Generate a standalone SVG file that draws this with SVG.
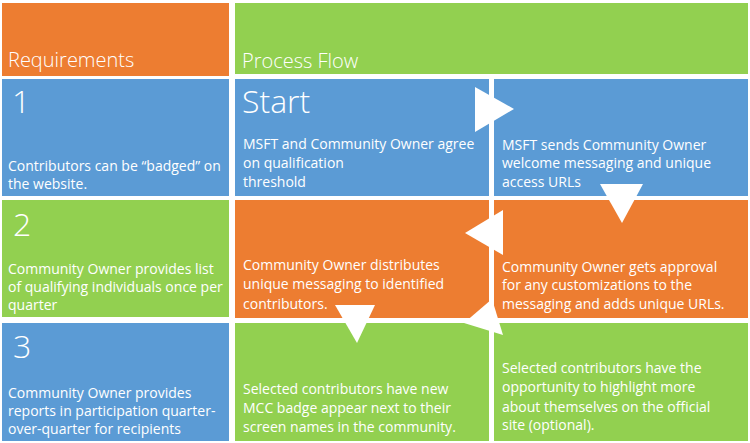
<svg xmlns="http://www.w3.org/2000/svg" width="750" height="443" viewBox="0 0 750 443">
<style>
.o{fill:#ED7D31}.b{fill:#5B9BD5}.g{fill:#92D050}
text{fill:#fff;font-family:"Open Sans","Noto Sans","Liberation Sans",sans-serif}
.h{font-size:20px;font-weight:300}
.n{font-size:32px;font-weight:300}
.t{font-size:14px}
.arr{fill:#fff}
</style>
<rect width="750" height="443" fill="#fff"/>
<g id="hdr-req"><rect class="o" x="2" y="3" width="227" height="73"/><text class="h" x="8" y="67">Requirements</text></g>
<g id="hdr-flow"><rect class="g" x="235" y="3" width="513" height="71"/><text class="h" x="242" y="68">Process Flow</text></g>
<g id="req1"><rect class="b" x="2" y="79" width="227" height="117"/><text class="n" x="12" y="113">1</text>
<text class="t" x="8" y="171">Contributors can be “badged” on</text><text class="t" x="8" y="189">the website.</text></g>
<g id="req2"><rect class="g" x="2" y="200" width="227" height="117"/><text class="n" x="13" y="236">2</text>
<text class="t" x="8" y="274">Community Owner provides list</text><text class="t" x="8" y="292">of qualifying individuals once per</text><text class="t" x="8" y="310">quarter</text></g>
<g id="req3"><rect class="b" x="2" y="323" width="227" height="118"/><text class="n" x="13" y="358">3</text>
<text class="t" x="8" y="398">Community Owner provides</text><text class="t" x="8" y="416">reports in participation quarter-</text><text class="t" x="8" y="434">over-quarter for recipients</text></g>
<g id="start"><rect class="b" x="235" y="79" width="254" height="117"/><text class="n" x="242" y="113">Start</text>
<text class="t" x="243" y="149">MSFT and Community Owner agree</text><text class="t" x="243" y="168">on qualification</text><text class="t" x="243" y="187">threshold</text></g>
<g id="sends"><rect class="b" x="494" y="79" width="254" height="117"/>
<text class="t" x="502" y="150">MSFT sends Community Owner</text><text class="t" x="502" y="168">welcome messaging and unique</text><text class="t" x="502" y="187">access URLs</text></g>
<g id="approval"><rect class="o" x="494" y="200" width="254" height="118"/>
<text class="t" x="502" y="272">Community Owner gets approval</text><text class="t" x="502" y="290">for any customizations to the</text><text class="t" x="502" y="309">messaging and adds unique URLs.</text></g>
<g id="distributes"><rect class="o" x="235" y="200" width="254" height="118"/>
<text class="t" x="243" y="270">Community Owner distributes</text><text class="t" x="243" y="289">unique messaging to identified</text><text class="t" x="243" y="309">contributors.</text></g>
<g id="badge"><rect class="g" x="235" y="323" width="254" height="118"/>
<text class="t" x="243" y="394">Selected contributors have new</text><text class="t" x="243" y="413">MCC badge appear next to their</text><text class="t" x="243" y="432">screen names in the community.</text></g>
<g id="highlight"><rect class="g" x="494" y="323" width="254" height="118"/>
<text class="t" x="502" y="373">Selected contributors have the</text><text class="t" x="502" y="392">opportunity to highlight more</text><text class="t" x="502" y="412">about themselves on the official</text><text class="t" x="502" y="430">site (optional).</text></g>
<g id="connectors" class="arr">
<polygon points="475,87 514,109 475,132"/>
<polygon points="600,184 643,184 622,223"/>
<polygon points="503,210 465,233 503,255"/>
<polygon points="335,305 375,305 357,343"/>
<polygon points="492,299 464,323 503,335"/>
</g>
</svg>
